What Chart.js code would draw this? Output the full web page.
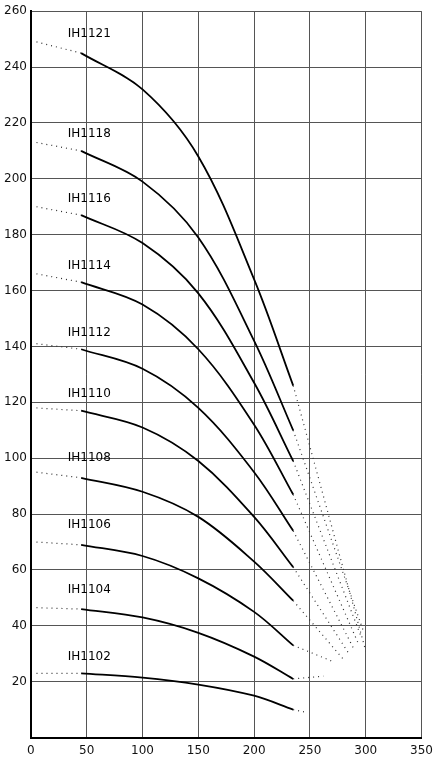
<!DOCTYPE html>
<html>
<head>
<meta charset="utf-8">
<script src="https://cdn.jsdelivr.net/npm/chart.js@4"></script>
<style>
html, body { margin: 0; padding: 0; background: #fff; }
#wrap { width: 439px; height: 768px; }
</style>
</head>
<body>
<div id="wrap"><canvas id="chart"></canvas></div>
<script>
const names = ['IH1121', 'IH1118', 'IH1116', 'IH1114', 'IH1112', 'IH1110', 'IH1108', 'IH1106', 'IH1104', 'IH1102']
const flowX = [45, 100, 150, 200, 235]
const head = [
  [245, 232, 208, 164, 126],
  [210, 199, 179, 142, 110],
  [187, 177, 159, 127, 99],
  [163, 155, 139, 112, 87],
  [139, 132, 118, 95, 74],
  [117, 111, 99, 79, 61],
  [93, 88, 79, 63, 49],
  [69, 65, 57, 45, 33],
  [46, 43, 37.5, 29, 21],
  [23, 21.5, 19, 15, 10]
]
// dotted lead-in start point (at x=5) and dotted tail end points
const startY = [249, 213, 190, 166, 141, 118, 95, 70, 46.5, 23]
const tailEnd = [[300, 31], [298, 38], [296, 36], [293, 34], [289, 32], [285, 30], [280, 28], [272, 27], [262, 22], [247, 9]]
const labelX = 33
const labelY = [252, 216, 193, 169, 145, 123, 100, 76, 53, 29]

const datasets = []
names.forEach((n, i) => {
  const pts = flowX.map((x, j) => ({ x: x, y: head[i][j] }))
  datasets.push({ data: pts, borderColor: '#000', borderWidth: 1.8, pointRadius: 0, tension: 0.35 })
  datasets.push({ data: [{ x: 5, y: startY[i] }, pts[0]], borderColor: '#333', borderWidth: 1.2, borderDash: [1, 4], pointRadius: 0 })
  datasets.push({ data: [pts[pts.length - 1], { x: tailEnd[i][0], y: tailEnd[i][1] }], borderColor: '#333', borderWidth: 1.2, borderDash: [1, 4], pointRadius: 0 })
})

const labelPlugin = {
  id: 'curveLabels',
  afterDatasetsDraw(chart) {
    const c = chart.ctx, xs = chart.scales.x, ys = chart.scales.y
    c.save()
    c.font = '12px "DejaVu Sans"'
    c.fillStyle = '#000'
    c.textBaseline = 'middle'
    names.forEach((n, i) => {
      c.fillText(n, xs.getPixelForValue(labelX), ys.getPixelForValue(labelY[i]))
    })
    c.restore()
  }
}

new Chart(document.getElementById('chart'), {
  type: 'line',
  data: { datasets: datasets },
  plugins: [labelPlugin],
  options: {
    responsive: true,
    maintainAspectRatio: false,
    animation: false,
    layout: { padding: { top: 0, right: 4, left: 0, bottom: 4 } },
    plugins: { legend: { display: false }, tooltip: { enabled: false } },
    scales: {
      x: {
        type: 'linear', min: 0, max: 350,
        ticks: { stepSize: 50, color: '#111', font: { size: 12, family: 'DejaVu Sans' }, padding: 6 },
        grid: { color: '#555', lineWidth: 1, drawTicks: false },
        border: { color: '#000', width: 2 }
      },
      y: {
        min: 0, max: 260,
        ticks: { stepSize: 20, color: '#111', font: { size: 12, family: 'DejaVu Sans' }, padding: 4,
          callback: v => v === 0 ? '' : v },
        grid: { color: '#555', lineWidth: 1, drawTicks: false },
        border: { color: '#000', width: 2 }
      }
    }
  }
})
</script>
</body>
</html>
